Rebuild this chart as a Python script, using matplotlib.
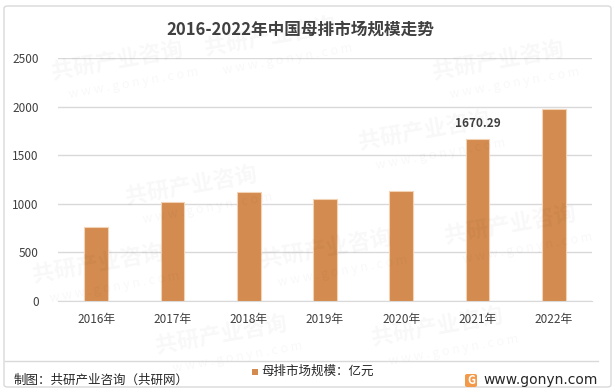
import matplotlib.pyplot as plt
from matplotlib.patches import FancyBboxPatch, Rectangle
import numpy as np

plt.rcParams['font.family'] = ['Noto Sans CJK SC', 'DejaVu Sans']

years = ['2016年', '2017年', '2018年', '2019年', '2020年', '2021年', '2022年']
values = [762, 1018, 1122, 1050, 1133, 1670.29, 1975]
yticks = [0, 500, 1000, 1500, 2000, 2500]

W, H = 615, 392
fig = plt.figure(figsize=(W / 100, H / 100), dpi=100)

# outer frame
fig.patches.append(FancyBboxPatch((4 / W, 5 / H), 607 / W, 381 / H,
                                  boxstyle='round,pad=0,rounding_size=0.006',
                                  transform=fig.transFigure, fill=False,
                                  edgecolor='#d9d9d9', linewidth=1))

# faint watermarks
for (wx, wy) in [(0.08, 0.80), (0.33, 0.86), (0.58, 0.62), (0.2, 0.48), (0.7, 0.80),
                 (0.05, 0.28), (0.42, 0.32), (0.72, 0.38), (0.25, 0.1), (0.6, 0.12)]:
    fig.text(wx, wy, '共研产业咨询', fontsize=16, fontweight='bold', color='#000000',
             alpha=0.03, rotation=10, zorder=0)
    fig.text(wx + 0.03, wy - 0.05, 'w w w . g o n y n . c o m', fontsize=9,
             color='#000000', alpha=0.03, rotation=10, zorder=0)

ax = fig.add_axes([58 / W, 1 - 301 / H, 534 / W, 243 / H])
x = np.arange(len(years))
ax.bar(x, values, width=0.31, color='#D38B4F', edgecolor='#F3D3B5', linewidth=0.8, zorder=3)
ax.set_xlim(-0.5, len(years) - 0.5)
ax.set_ylim(0, 2500)
ax.set_yticks(yticks)
ax.set_xticks(x)
ax.set_xticklabels(years)
ax.tick_params(axis='both', length=0, labelsize=8.5, colors='#404040')
ax.tick_params(axis='y', pad=14)
ax.tick_params(axis='x', pad=9)
ax.yaxis.grid(True, color='#d9d9d9', linewidth=1)
ax.set_axisbelow(True)
for s in ['top', 'right', 'left']:
    ax.spines[s].set_visible(False)
ax.spines['bottom'].set_color('#d9d9d9')
ax.patch.set_alpha(0)

ax.text(x[5], values[5] + 90, '1670.29', ha='center', va='bottom', fontsize=8.5,
        color='#404040', fontweight='bold')

fig.text(300 / W, 1 - 30 / H, '2016-2022年中国母排市场规模走势', ha='center', va='center',
         fontsize=12, fontweight='bold', color='#404040')

# footer
fig.add_artist(plt.Line2D([5 / W, 598 / W], [1 - 361 / H, 1 - 361 / H],
                          color='#d9d9d9', linewidth=1, transform=fig.transFigure))
fig.text(14 / W, 1 - 380 / H, '制图：共研产业咨询（共研网）', ha='left', va='center',
         fontsize=9, color='#262626')
fig.patches.append(Rectangle((252 / W, 1 - 375 / H), 6 / W, 6 / H, transform=fig.transFigure,
                             facecolor='#D38B4F', edgecolor='none'))
fig.text(261 / W, 1 - 371 / H, '母排市场规模：亿元', ha='left', va='center',
         fontsize=9, color='#262626')
fig.patches.append(FancyBboxPatch((465 / W, 1 - 387 / H), 12 / W, 13 / H,
                                  boxstyle='round,pad=0,rounding_size=0.004',
                                  transform=fig.transFigure, facecolor='#F39A4A',
                                  edgecolor='none'))
fig.text(471 / W, 1 - 380.5 / H, 'G', ha='center', va='center', fontsize=8,
         fontweight='bold', color='white')
fig.text(598 / W, 1 - 380 / H, 'www.gonyn.com', ha='right', va='center',
         fontsize=10, color='#262626', family=['DejaVu Sans'])

fig.savefig('out.png', dpi=100)
